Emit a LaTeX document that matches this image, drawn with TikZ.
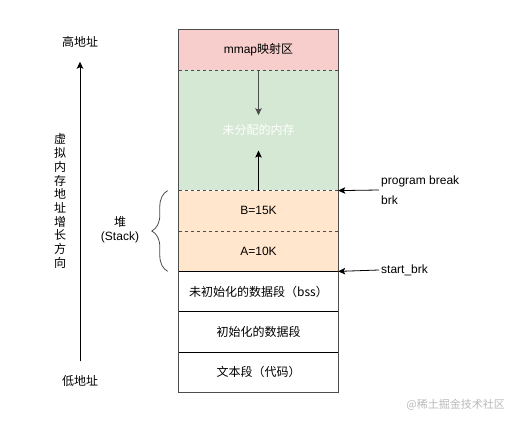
\documentclass[tikz,border=0pt]{standalone}
\usepackage{fontspec}
\setmainfont{Liberation Sans}
\newfontfamily\cjk{Noto Sans CJK SC}
\usetikzlibrary{arrows.meta, positioning, decorations.pathreplacing}
\definecolor{mmapred}{HTML}{F8CECC}
\definecolor{freegreen}{HTML}{D5E8D4}
\definecolor{heaporange}{HTML}{FFE6CC}
\definecolor{edgegray}{HTML}{4D4D4D}

\begin{document}
\begin{tikzpicture}[x=1pt, y=-1pt,
  seg/.style={rectangle, fill=#1, minimum width=159pt, minimum height=40pt,
    inner sep=0pt, font=\fontsize{12}{14}\selectfont},
  lbl/.style={inner sep=0pt, font=\fontsize{12}{14}\selectfont},
  ptr/.style={-{Stealth[length=7pt, width=6.5pt, inset=1.5pt]}, line width=0.8pt},
  sep/.style={edgegray, line width=0.8pt, dash pattern=on 3pt off 3pt},
  node distance=0pt,
]
  \useasboundingbox (0,0) rectangle (512,422);

  % memory column
  \node[seg=mmapred] (mmap) at (258.5,50) {mmap{\cjk 映射区}};
  \node[seg=freegreen, minimum height=120pt, below=of mmap] (free) {\textcolor{white}{\cjk 未分配的内存}};
  \node[seg=heaporange, below=of free] (bblk) {B=15K};
  \node[seg=heaporange, below=of bblk] (ablk) {A=10K};
  \node[seg=white, below=of ablk] (bss) {\cjk 未初始化的数据段（bss）};
  \node[seg=white, below=of bss] (data) {\cjk 初始化的数据段};
  \node[seg=white, below=of data] (text) {\cjk 文本段（代码）};

  \draw[sep] (mmap.south west) -- (mmap.south east);
  \draw[sep] (free.south west) -- (free.south east);
  \draw[sep] (bblk.south west) -- (bblk.south east);
  \draw[line width=0.8pt] (ablk.south west) -- (ablk.south east);
  \draw[line width=0.8pt] (bss.south west) -- (bss.south east);
  \draw[line width=0.8pt] (data.south west) -- (data.south east);
  \draw[edgegray, line width=0.9pt] (mmap.north west) rectangle (text.south east);

  % growth of mmap and heap
  \draw[ptr, edgegray] (mmap.south) -- ([yshift=-45pt]mmap.south);
  \draw[ptr] (free.south) -- ([yshift=40pt]free.south);

  % break pointers
  \node[lbl, anchor=west] (pbrk) at (381,181) {program break};
  \node[lbl, anchor=west] (brk) at (381,200) {brk};
  \coordinate (brkfrom) at (379,190);
  \draw[ptr] (brkfrom) -- (free.south east);
  \node[lbl, anchor=west] (sbrk) at (381,270) {start\_brk};
  \draw[ptr] ([xshift=-2pt]sbrk.west) -- (ablk.south east);

  % address axis
  \node[lbl] (high) at (80,42) {\cjk 高地址};
  \node[lbl] (low) at (80,381) {\cjk 低地址};
  \draw[ptr] ([yshift=14pt]low.north) -- ([yshift=-14pt]high.south);
  \node[lbl, align=center, font=\cjk\fontsize{12}{13.7}\selectfont] (dir) at (60,201)
    {虚\\拟\\内\\存\\地\\址\\增\\长\\方\\向};

  % heap brace
  \node[lbl, align=center] (heap) at (120,230) {{\cjk 堆}\\(Stack)};
  \draw[decorate, decoration={brace, amplitude=16pt}, edgegray, line width=0.8pt]
    ([xshift=-11pt]ablk.south west) -- ([xshift=-11pt]bblk.north west);

  \node[lbl, anchor=east, text=gray!55, font=\fontsize{11}{13}\selectfont] (mark) at (505,405)
    {\cjk @稀土掘金技术社区};
\end{tikzpicture}
\end{document}
